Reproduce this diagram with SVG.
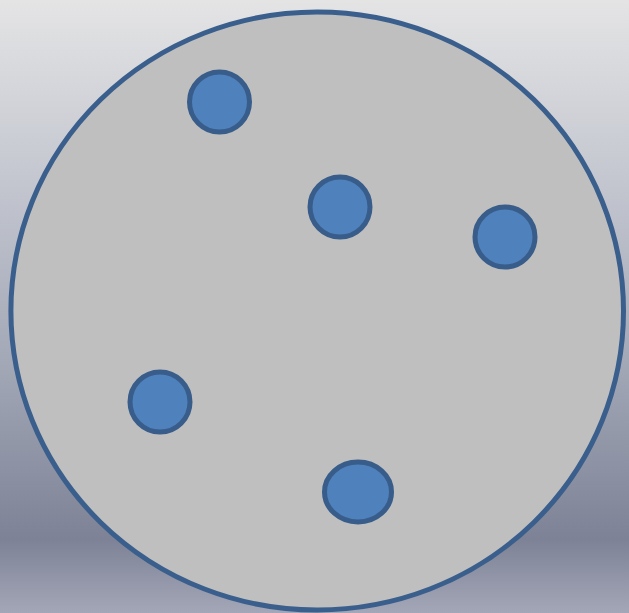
<svg xmlns="http://www.w3.org/2000/svg" width="629" height="613" viewBox="0 0 629 613">
<defs>
<linearGradient id="bg" x1="0" y1="0" x2="0" y2="1">
<stop offset="0" stop-color="#e4e4e5"/>
<stop offset="0.3" stop-color="#c3c6cf"/>
<stop offset="0.6" stop-color="#a2a7b6"/>
<stop offset="0.88" stop-color="#7d8296"/>
<stop offset="1" stop-color="#a3a7b7"/>
</linearGradient>
<style>
.big{fill:#bfbfbf;stroke:#3a5f8c;stroke-width:5}
.dot{fill:#4f81bd;stroke:#385d8a;stroke-width:5}
</style>
</defs>
<rect x="0" y="0" width="629" height="613" fill="url(#bg)"/>
<g id="container"><ellipse class="big" cx="317.2" cy="311" rx="306.3" ry="299"/></g>
<g id="n1"><circle class="dot" cx="219.5" cy="102" r="30"/></g>
<g id="n2"><circle class="dot" cx="340" cy="207" r="30"/></g>
<g id="n3"><circle class="dot" cx="505" cy="237" r="30"/></g>
<g id="n4"><circle class="dot" cx="160" cy="402" r="30"/></g>
<g id="n5"><ellipse class="dot" cx="358" cy="492" rx="33.5" ry="30"/></g>
<g id="connectors"></g>
</svg>
